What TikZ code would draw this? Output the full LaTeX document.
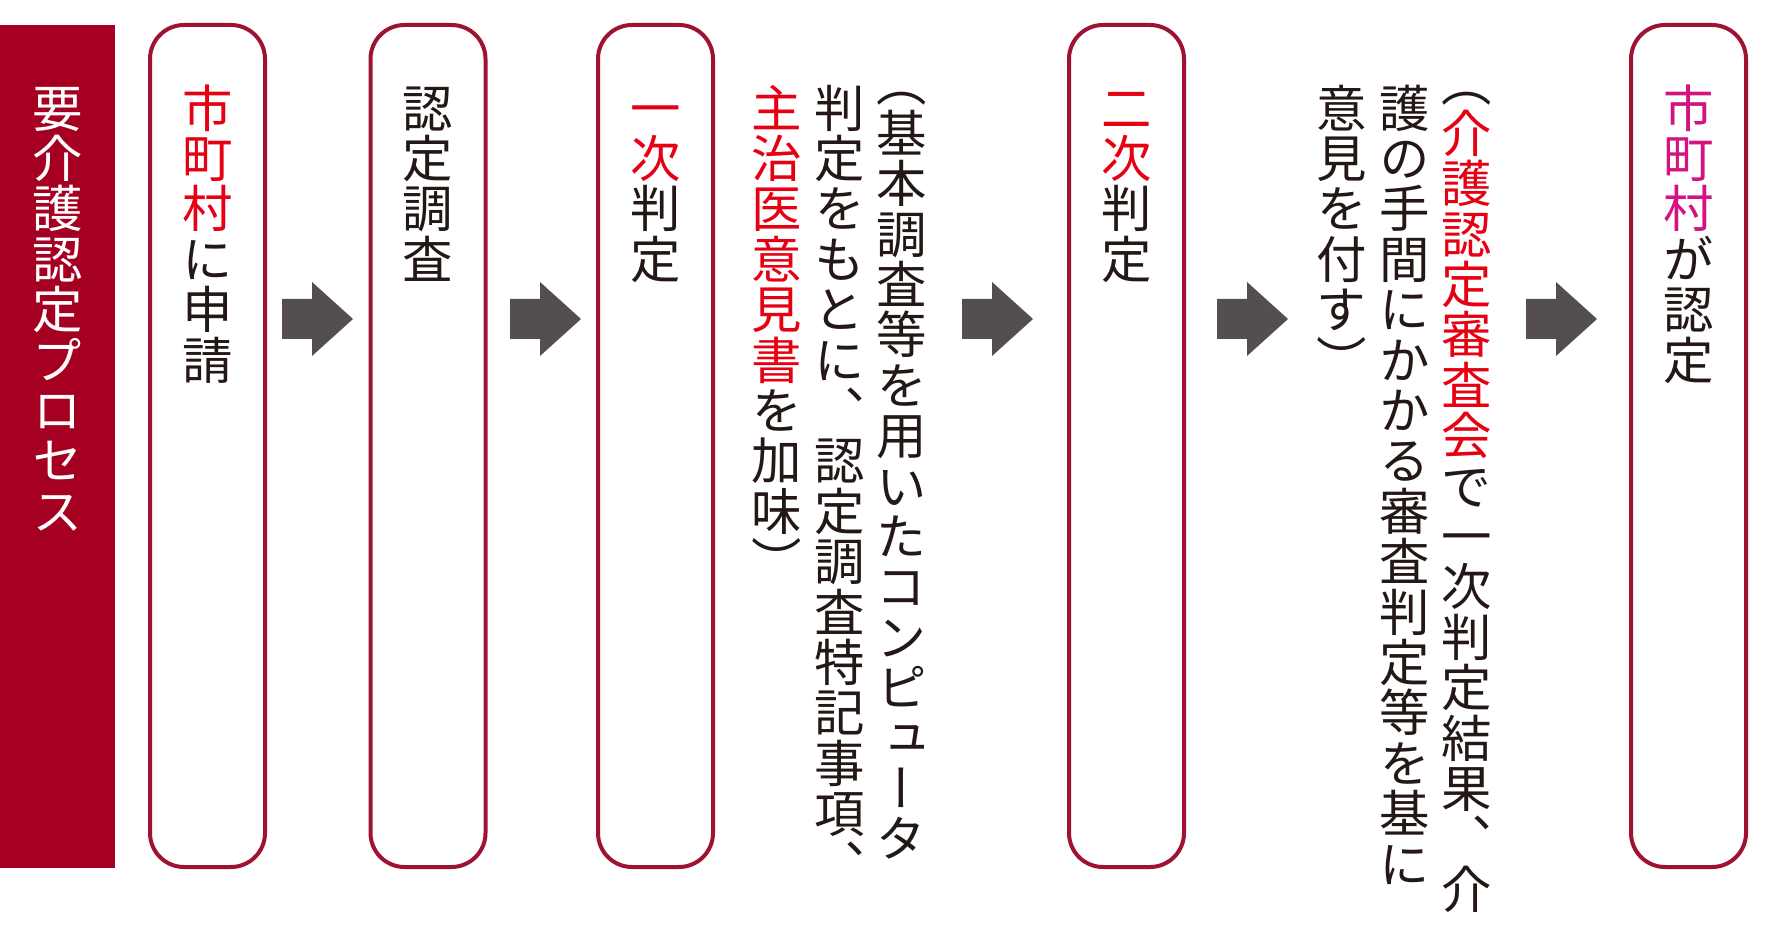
\documentclass[tikz,border=0pt]{standalone}
\usepackage{fontspec}
\newfontfamily\jpv[RawFeature=+vert]{Noto Sans CJK JP}
\definecolor{barred}{RGB}{165,0,34}
\definecolor{boxred}{RGB}{158,18,50}
\definecolor{jpred}{RGB}{230,0,18}
\definecolor{jpmagenta}{RGB}{212,18,128}
\definecolor{arrowgray}{RGB}{84,78,80}
\definecolor{inkblack}{RGB}{35,24,21}

% one character per em cell, stacked top to bottom
\def\vcol{inkblack}
\newcommand\setred{\def\vcol{jpred}}
\newcommand\setmag{\def\vcol{jpmagenta}}
\newcommand\setblack{\def\vcol{inkblack}}
\newcommand\setwhite{\def\vcol{white}}
\newcommand\vcell[1]{\vbox to 1em{\vss\hbox to 1em{\hss\smash{\textcolor{\vcol}{#1}}\hss}\kern0.12em}}
\newcommand\openparen{\vbox to 0.5em{\vss\hbox to 1em{\hss\smash{\textcolor{\vcol}{（}}\hss}\kern0.12em}}
\ExplSyntaxOn
\NewDocumentCommand\vstack{m}{
  \vbox{\offinterlineskip
    \tl_map_inline:nn {#1} { \token_if_cs:NTF ##1 {##1} {\vcell{##1}} }
  }
}
\ExplSyntaxOff

\tikzset{every picture/.style={line width=0.75pt}}
\tikzset{
  stepbox/.style={draw=boxred, line width=2pt, rounded corners=17pt, minimum width=57.5pt, minimum height=421pt, inner sep=0pt},
  vtext/.style={font=\jpv\fontsize{25.2}{25.2}\selectfont, inner sep=0pt, anchor=north},
  blockarrow/.style={fill=arrowgray, draw=none}
}

\begin{document}
\begin{tikzpicture}[x=0.5pt,y=0.5pt,yscale=-1,xscale=1]
\useasboundingbox (0,0) rectangle (1770,929);

% Title Bar
\fill [barred] (0,25) rectangle (115,868);
\node [vtext] (title) at (57.5,82) {\vstack{\setwhite 要介護認定プロセス}};
% Step Box
\node [stepbox] (b1) at (207.5,446) {};
\node [vtext] (t1) at (207.5,82) {\vstack{\setred 市町村\setblack に申請}};
% Step Box
\node [stepbox] (b2) at (428,446) {};
\node [vtext] (t2) at (428,82) {\vstack{認定調査}};
% Step Box
\node [stepbox] (b3) at (655.5,446) {};
\node [vtext] (t3) at (655.5,82) {\vstack{\setred 一次\setblack 判定}};
% Note
\node [vtext] (n1a) at (902,82) {\vstack{\openparen 基本調査等を用いたコンピュータ}};
\node [vtext] (n1b) at (839.5,82) {\vstack{判定をもとに、認定調査特記事項、}};
\node [vtext] (n1c) at (777,82) {\vstack{\setred 主治医意見書\setblack を加味）}};
% Step Box
\node [stepbox] (b4) at (1126.5,446) {};
\node [vtext] (t4) at (1126.5,82) {\vstack{\setred 二次\setblack 判定}};
% Note
\node [vtext] (n2a) at (1467,82) {\vstack{\openparen\setred 介護認定審査会\setblack で一次判定結果、介}};
\node [vtext] (n2b) at (1404.5,82) {\vstack{護の手間にかかる審査判定等を基に}};
\node [vtext] (n2c) at (1342,82) {\vstack{意見を付す）}};
% Step Box
\node [stepbox] (b5) at (1688.5,446) {};
\node [vtext] (t5) at (1688.5,82) {\vstack{\setmag 市町村\setblack が認定}};

% Block Arrows
\coordinate (a1) at (282,319);
\coordinate (a2) at (510,319);
\coordinate (a3) at (962,319);
\coordinate (a4) at (1217,319);
\coordinate (a5) at (1526,319);
\foreach \a in {a1,a2,a3,a4,a5}
  \fill [blockarrow, shift={(\a)}] (0,-20) -- (30,-20) -- (30,-37) -- (71,0) -- (30,37) -- (30,20) -- (0,20) -- cycle;

\end{tikzpicture}
\end{document}
